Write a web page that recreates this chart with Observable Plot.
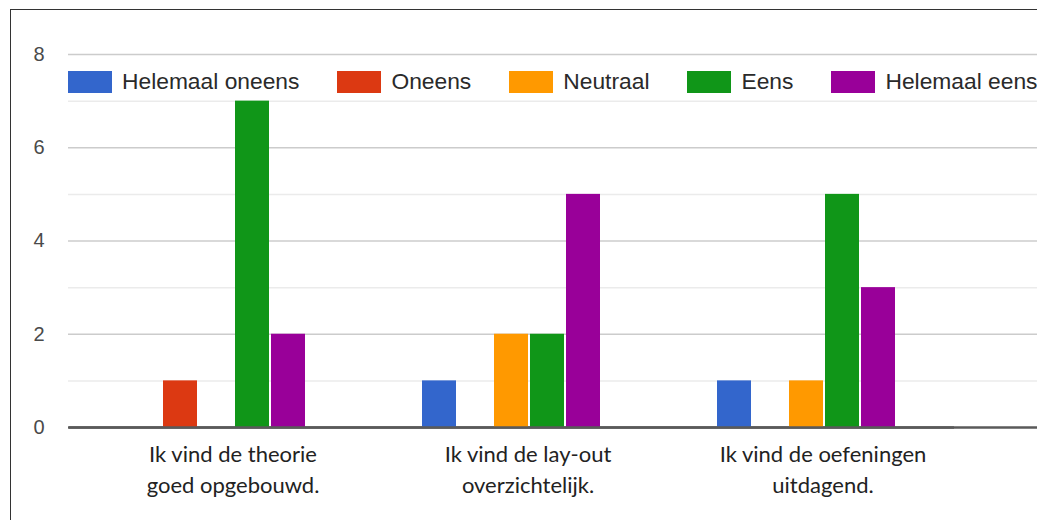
<!DOCTYPE html>
<html><head><meta charset="utf-8">
<script src="https://cdn.jsdelivr.net/npm/d3@7"></script>
<script src="https://cdn.jsdelivr.net/npm/@observablehq/plot@0.6"></script>
<style>
body{margin:0;background:#fff;}
#wrap{position:relative;width:1037px;height:520px;overflow:hidden;background:#fff;}
#bg,#fg{position:absolute;left:0;top:0;}
#border{position:absolute;left:10px;top:9px;width:1100px;height:600px;border-left:1.5px solid #333;border-top:1.5px solid #333;pointer-events:none;}
#legend{position:absolute;top:68px;left:68px;display:flex;align-items:center;font-family:"Liberation Sans",Arial,sans-serif;font-size:22.8px;color:#2a2a2a;white-space:nowrap;}
#legend .item{display:flex;align-items:center;margin-right:38px;}
#legend .sw{width:44px;height:22px;margin-right:10px;}
</style></head>
<body>
<div id="wrap"><div id="bg"></div><div id="fg"></div><div id="legend"></div><div id="border"></div></div>
<script>
const questions = ["Ik vind de theorie\ngoed opgebouwd.", "Ik vind de lay-out\noverzichtelijk.", "Ik vind de oefeningen\nuitdagend."];
const answers = ["Helemaal oneens", "Oneens", "Neutraal", "Eens", "Helemaal eens"];
const helemaalOneens = [0, 1, 1];
const oneens = [1, 0, 0];
const neutraal = [0, 2, 1];
const eens = [7, 2, 5];
const helemaalEens = [2, 5, 3];
const yTicks = [0, 2, 4, 6, 8];
const minorTicks = [1, 3, 5, 7];
const colors = ["#3366cc", "#dc3912", "#ff9900", "#109618", "#990099"];

const series = [helemaalOneens, oneens, neutraal, eens, helemaalEens];
const rows = [];
answers.forEach((a, i) => questions.forEach((q, j) => {
  if (series[i][j] > 0) rows.push({question: q, answer: a, count: series[i][j]});
}));

const common = {
  width: 1037, height: 520,
  marginLeft: 68, marginRight: 0, marginTop: 54, marginBottom: 93,
  style: {fontFamily: "'Liberation Sans', Arial, sans-serif", background: "transparent"},
  y: {domain: [0, 8], axis: null}
};

const bg = Plot.plot({
  ...common,
  marks: [
    Plot.ruleY(minorTicks, {stroke: "#ebebeb", strokeWidth: 1.5}),
    Plot.ruleY(yTicks.filter(d => d > 0), {stroke: "#cccccc", strokeWidth: 1.5}),
    Plot.axisY({ticks: yTicks, tickSize: 0, tickPadding: 24, fontSize: 20, fill: "#4a4a4a", label: null}),
    Plot.ruleY([0], {stroke: "#5a5a5a", strokeWidth: 2.5})
  ]
});
document.getElementById("bg").appendChild(bg);

const chart = Plot.plot({
  ...common,
  fx: {domain: questions, range: [68, 955], padding: 0, axis: null},
  x: {domain: answers, paddingInner: 0.05, paddingOuter: 1.55, axis: null},
  color: {domain: answers, range: colors},
  marks: [
    Plot.barY(rows, {fx: "question", x: "answer", y: "count", fill: "answer"}),
    Plot.ruleY([0], {stroke: "#5a5a5a", strokeWidth: 2.5}),
    Plot.text(questions, {fx: d => d, text: d => d, frameAnchor: "bottom", lineAnchor: "top", dx: 16, dy: 12, lineHeight: 1.41, fontSize: 22, fontFamily: "Lato", fill: "#222"})
  ]
});
document.getElementById("fg").appendChild(chart);

const cs = chart.scale("color");
const leg = document.getElementById("legend");
cs.domain.forEach((a, i) => {
  const it = document.createElement("div"); it.className = "item";
  const sw = document.createElement("div"); sw.className = "sw"; sw.style.background = cs.range[i];
  const t = document.createElement("span"); t.textContent = a;
  it.appendChild(sw); it.appendChild(t); leg.appendChild(it);
});
</script>
</body></html>
